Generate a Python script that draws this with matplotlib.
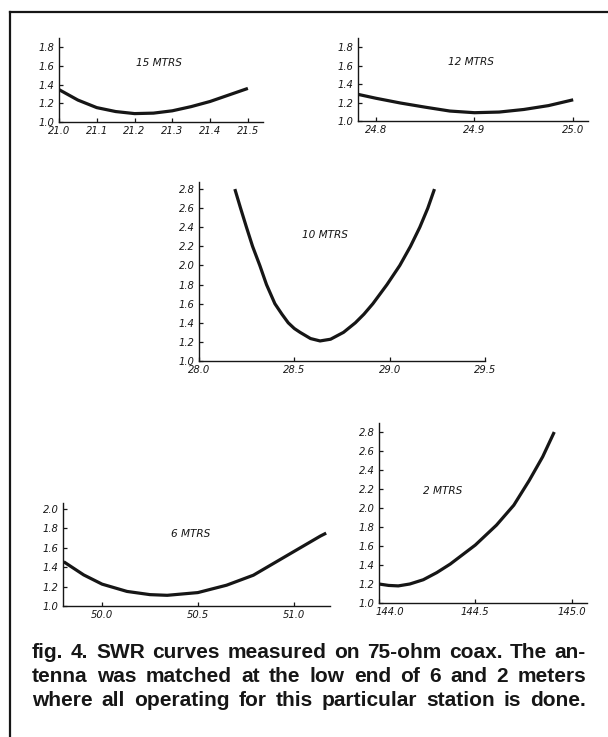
import matplotlib
matplotlib.use("Agg")
import matplotlib.pyplot as plt
import matplotlib.transforms as mtransforms
from matplotlib.lines import Line2D

# SWR readings taken off the curves (frequency in MHz, SWR)
f15 = [21.0, 21.05, 21.1, 21.15, 21.2, 21.25, 21.3, 21.35, 21.4, 21.45, 21.5]
swr15 = [1.347, 1.235, 1.154, 1.112, 1.09, 1.095, 1.12, 1.165, 1.22, 1.29, 1.36]

f12 = [24.782, 24.8, 24.825, 24.85, 24.875, 24.9, 24.925, 24.95, 24.975, 25.0]
swr12 = [1.289, 1.247, 1.195, 1.15, 1.108, 1.09, 1.097, 1.125, 1.167, 1.23]

f10 = [28.188, 28.218, 28.249, 28.281, 28.319, 28.354, 28.398, 28.435, 28.468, 28.5,
       28.53, 28.585, 28.635, 28.69, 28.758, 28.82, 28.865, 28.912, 28.986, 29.053,
       29.109, 29.158, 29.2, 29.235]
swr10 = [2.8, 2.6, 2.4, 2.2, 2.0, 1.8, 1.6, 1.49, 1.4, 1.34,
         1.3, 1.235, 1.21, 1.228, 1.3, 1.4, 1.49, 1.6, 1.8, 2.0,
         2.2, 2.4, 2.6, 2.8]

f6 = [49.8, 49.904, 50.0, 50.13, 50.25, 50.34, 50.5, 50.65, 50.79, 51.0, 51.14, 51.17]
swr6 = [1.455, 1.32, 1.225, 1.15, 1.117, 1.11, 1.138, 1.214, 1.317, 1.559, 1.72, 1.75]

f2 = [144.0, 144.05, 144.1, 144.16, 144.23, 144.3, 144.37, 144.5, 144.61, 144.7,
      144.78, 144.85, 144.91]
swr2 = [1.2, 1.185, 1.18, 1.2, 1.245, 1.32, 1.41, 1.61, 1.82, 2.03,
        2.29, 2.54, 2.8]

caption = ["fig. 4. SWR curves measured on 75-ohm coax. The an-",
           "tenna was matched at the low end of 6 and 2 meters",
           "where all operating for this particular station is done."]

W, H = 608, 737
fig = plt.figure(figsize=(W / 100, H / 100), dpi=100)
ink = "#161616"


def panel(px_left, px_right, px_bottom, px_top, f, s, xlim, ylim, xt, yt, name, name_xy):
    ax = fig.add_axes([px_left / W, 1 - px_bottom / H,
                       (px_right - px_left) / W, (px_bottom - px_top) / H])
    ax.plot(f, s, color=ink, lw=2.3, solid_joinstyle="round", solid_capstyle="butt")
    ax.set_xlim(*xlim)
    ax.set_ylim(*ylim)
    ax.set_xticks(xt)
    ax.set_yticks(yt)
    ax.set_xticklabels(["%.1f" % v for v in xt])
    ax.set_yticklabels(["%.1f" % v for v in yt])
    for side in ["top", "right"]:
        ax.spines[side].set_visible(False)
    for side in ["left", "bottom"]:
        ax.spines[side].set_linewidth(1.0)
        ax.spines[side].set_color(ink)
    ax.tick_params(direction="in", length=3, width=0.9, color=ink, pad=3,
                   labelsize=7.2, labelcolor=ink)
    for lab in ax.get_xticklabels() + ax.get_yticklabels():
        lab.set_fontstyle("italic")
    ax.patch.set_alpha(0)
    ax.text(name_xy[0], name_xy[1], name, fontsize=7.6, style="italic",
            ha="center", va="center", color=ink)
    return ax


panel(59, 263, 122, 38, f15, swr15, (21.0, 21.54), (1.0, 1.9),
      [21.0, 21.1, 21.2, 21.3, 21.4, 21.5], [1.0, 1.2, 1.4, 1.6, 1.8],
      "15 MTRS", (21.265, 1.63))
panel(358, 588, 121, 38, f12, swr12, (24.782, 25.015), (1.0, 1.9),
      [24.8, 24.9, 25.0], [1.0, 1.2, 1.4, 1.6, 1.8],
      "12 MTRS", (24.896, 1.64))
panel(199, 485, 361, 182, f10, swr10, (28.0, 29.5), (1.0, 2.874),
      [28.0, 28.5, 29.0, 29.5], [1.0 + 0.2 * i for i in range(10)],
      "10 MTRS", (28.663, 2.32))
panel(63, 330, 606, 503, f6, swr6, (49.796, 51.19), (1.0, 2.06),
      [50.0, 50.5, 51.0], [1.0, 1.2, 1.4, 1.6, 1.8, 2.0],
      "6 MTRS", (50.46, 1.74))
ax2 = panel(379, 587, 603, 423, f2, swr2, (144.0, 145.08), (1.0, 2.895),
            [144.0, 144.5, 145.0], [1.0 + 0.2 * i for i in range(10)],
            "2 MTRS", (144.33, 2.18))
# the first label sits a little right of the corner in the original
first = ax2.get_xticklabels()[0]
first.set_transform(first.get_transform() +
                    mtransforms.ScaledTranslation(11 / 100, 0, fig.dpi_scale_trans))

# frame of the figure box (top and left edges visible)
fig.add_artist(Line2D([10 / W, 1.0], [1 - 12 / H, 1 - 12 / H], color=ink, lw=1.6,
                      transform=fig.transFigure))
fig.add_artist(Line2D([10 / W, 10 / W], [1 - 12 / H, 0.0], color=ink, lw=1.6,
                      transform=fig.transFigure))

# justified caption: spread the words of each line from x=32 to x=586
renderer = fig.canvas.get_renderer()
x0, x1 = 32, 586
for i, line in enumerate(caption):
    y = 1 - (653 + 23.5 * i) / H
    words = [fig.text(0, y, w, fontsize=15.0, fontweight="bold", family="Liberation Sans",
                      color=ink, ha="left", va="center") for w in line.split(" ")]
    widths = [t.get_window_extent(renderer).width for t in words]
    gap = (x1 - x0 - sum(widths)) / (len(words) - 1)
    x = x0
    for t, wd in zip(words, widths):
        t.set_x(x / W)
        x += wd + gap

fig.savefig("out.png", dpi=100, facecolor="white")
